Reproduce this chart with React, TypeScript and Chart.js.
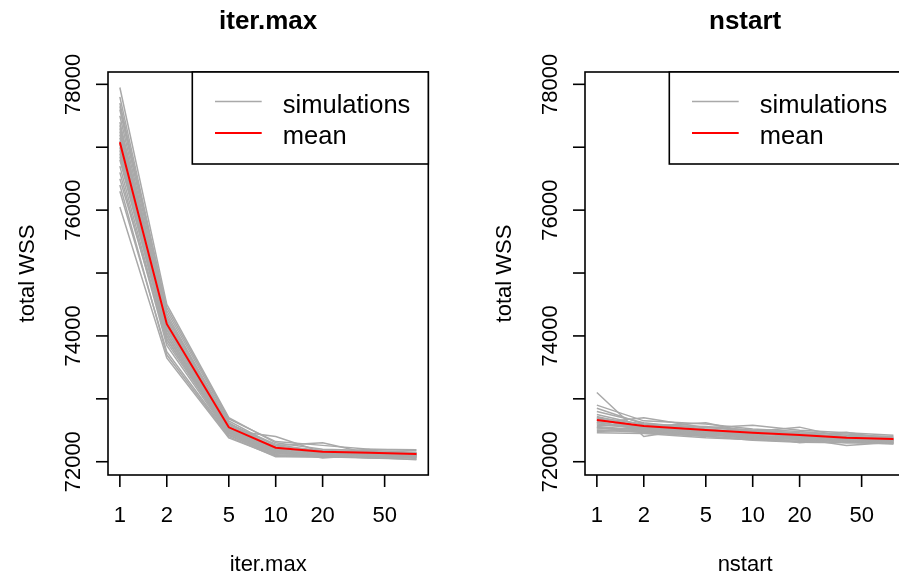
import React, { useEffect, useRef } from "react";
import { Chart, registerables } from "chart.js";

Chart.register(...registerables);

const xValues = [1, 2, 5, 10, 20, 40, 80];
const xTicks = [1, 2, 5, 10, 20, 50];
const yTicks = [72000, 73000, 74000, 75000, 76000, 77000, 78000];
const yTickLabels = ["72000", "", "74000", "", "76000", "", "78000"];

const iterMaxSims: number[][] = [
  [77950, 74500, 72700, 72300, 72200, 72180, 72150],
  [77800, 74400, 72650, 72250, 72180, 72160, 72140],
  [77700, 74350, 72600, 72280, 72150, 72150, 72130],
  [77600, 74300, 72620, 72200, 72170, 72140, 72120],
  [77500, 74250, 72580, 72230, 72140, 72200, 72180],
  [77400, 74200, 72550, 72180, 72160, 72120, 72110],
  [77350, 74300, 72600, 72260, 72300, 72130, 72140],
  [77300, 74150, 72500, 72150, 72120, 72100, 72100],
  [77250, 74250, 72560, 72220, 72130, 72150, 72120],
  [77200, 74100, 72520, 72170, 72110, 72130, 72090],
  [77150, 74200, 72540, 72200, 72180, 72110, 72130],
  [77100, 74050, 72480, 72150, 72090, 72160, 72100],
  [77050, 74150, 72500, 72400, 72150, 72140, 72110],
  [77000, 74100, 72530, 72180, 72120, 72120, 72080],
  [76950, 74000, 72470, 72140, 72140, 72100, 72120],
  [76900, 74050, 72500, 72160, 72100, 72060, 72070],
  [76850, 73950, 72460, 72120, 72130, 72130, 72100],
  [76800, 74000, 72490, 72190, 72060, 72110, 72090],
  [76700, 73900, 72450, 72100, 72110, 72090, 72060],
  [76600, 73850, 72430, 72090, 72140, 72080, 72100],
  [76500, 73950, 72470, 72140, 72100, 72140, 72050],
  [76400, 73700, 72400, 72080, 72080, 72060, 72040],
  [76300, 73750, 72420, 72100, 72090, 72100, 72070],
  [76050, 73650, 72380, 72090, 72070, 72070, 72030],
  [77650, 74450, 72680, 72320, 72260, 72200, 72190],
];
const iterMaxMean = [77080, 74190, 72547, 72223, 72159, 72143, 72122];

const nstartSims: number[][] = [
  [73100, 72400, 72550, 72500, 72450, 72400, 72380],
  [72900, 72650, 72600, 72520, 72480, 72420, 72400],
  [72850, 72600, 72550, 72480, 72440, 72380, 72360],
  [72800, 72620, 72520, 72460, 72420, 72400, 72370],
  [72750, 72580, 72560, 72500, 72460, 72440, 72390],
  [72720, 72550, 72480, 72440, 72400, 72360, 72350],
  [72700, 72600, 72500, 72480, 72550, 72380, 72340],
  [72680, 72520, 72470, 72420, 72380, 72350, 72330],
  [72660, 72560, 72620, 72460, 72410, 72390, 72360],
  [72640, 72500, 72450, 72400, 72360, 72340, 72320],
  [72620, 72540, 72500, 72450, 72420, 72470, 72350],
  [72600, 72520, 72480, 72430, 72300, 72360, 72330],
  [72580, 72560, 72460, 72400, 72380, 72300, 72340],
  [72560, 72500, 72440, 72380, 72400, 72370, 72320],
  [72540, 72480, 72420, 72420, 72350, 72340, 72300],
  [72520, 72530, 72470, 72380, 72370, 72260, 72310],
  [72500, 72470, 72400, 72360, 72340, 72330, 72290],
  [72480, 72510, 72450, 72390, 72360, 72350, 72340],
  [72460, 72450, 72380, 72350, 72320, 72310, 72280],
  [72700, 72490, 72430, 72370, 72390, 72320, 72300],
  [72620, 72700, 72540, 72580, 72500, 72460, 72420],
  [72550, 72460, 72410, 72340, 72310, 72300, 72290],
];
const nstartMean = [72663, 72568, 72504, 72461, 72424, 72382, 72361];

const legendLabels = ["simulations", "mean"];
const simColor = "#a9a9a9";
const meanColor = "#ff0000";
const FONT = "'Liberation Sans', Arial, Helvetica, sans-serif";

const X_MIN = 0.8393;
const X_MAX = 95.32;
const Y_MIN = 71789;
const Y_MAX = 78196;

function makePlugin(title: string, xlab: string, ylab: string) {
  return {
    id: "rframe",
    beforeDraw(chart: any) {
      const ctx = chart.ctx;
      ctx.save();
      ctx.fillStyle = "#ffffff";
      ctx.fillRect(0, 0, chart.width, chart.height);
      ctx.restore();
    },
    afterDraw(chart: any) {
      const ctx = chart.ctx as CanvasRenderingContext2D;
      const a = chart.chartArea;
      const xs = chart.scales.x;
      const ys = chart.scales.y;
      ctx.save();
      ctx.strokeStyle = "#000";
      ctx.fillStyle = "#000";
      ctx.lineWidth = 1.6;
      ctx.strokeRect(a.left, a.top, a.right - a.left, a.bottom - a.top);
      ctx.font = `22px ${FONT}`;
      ctx.textAlign = "center";
      ctx.textBaseline = "alphabetic";
      xTicks.forEach((t) => {
        const px = xs.getPixelForValue(t);
        ctx.beginPath();
        ctx.moveTo(px, a.bottom);
        ctx.lineTo(px, a.bottom + 12);
        ctx.stroke();
        ctx.fillText(String(t), px, a.bottom + 47);
      });
      yTicks.forEach((t, i) => {
        const py = ys.getPixelForValue(t);
        ctx.beginPath();
        ctx.moveTo(a.left, py);
        ctx.lineTo(a.left - 12, py);
        ctx.stroke();
        if (yTickLabels[i]) {
          ctx.save();
          ctx.translate(a.left - 28, py);
          ctx.rotate(-Math.PI / 2);
          ctx.textAlign = "center";
          ctx.fillText(yTickLabels[i], 0, 0);
          ctx.restore();
        }
      });
      const cx = (a.left + a.right) / 2;
      const cy = (a.top + a.bottom) / 2;
      ctx.fillText(xlab, cx, 571);
      ctx.save();
      ctx.translate(33.5, cy);
      ctx.rotate(-Math.PI / 2);
      ctx.textAlign = "center";
      ctx.fillText(ylab, 0, 0);
      ctx.restore();
      ctx.font = `bold 26px ${FONT}`;
      ctx.fillText(title, cx, 28.5);
      const lw = 236;
      const lh = 92;
      const lx = a.right - lw;
      const ly = a.top;
      ctx.fillStyle = "#fff";
      ctx.fillRect(lx, ly, lw, lh);
      ctx.strokeStyle = "#000";
      ctx.lineWidth = 1.6;
      ctx.strokeRect(lx, ly, lw, lh);
      const rows = [
        { y: ly + 29.5, c: simColor, w: 1.5 },
        { y: ly + 61, c: meanColor, w: 1.8 },
      ];
      ctx.font = `25.5px ${FONT}`;
      ctx.textAlign = "left";
      rows.forEach((r, i) => {
        ctx.strokeStyle = r.c;
        ctx.lineWidth = r.w;
        ctx.beginPath();
        ctx.moveTo(lx + 22.7, r.y);
        ctx.lineTo(lx + 69.4, r.y);
        ctx.stroke();
        ctx.fillStyle = "#000";
        ctx.fillText(legendLabels[i], lx + 90.5, r.y + 11);
      });
      ctx.restore();
    },
  };
}

function Panel(props: { sims: number[][]; mean: number[]; title: string; xlab: string; left: number }) {
  const ref = useRef<HTMLCanvasElement | null>(null);
  useEffect(() => {
    if (!ref.current) return;
    const datasets: any[] = [
      {
        data: props.mean.map((v, i) => ({ x: xValues[i], y: v })),
        borderColor: meanColor,
        borderWidth: 2,
        pointRadius: 0,
        fill: false,
        tension: 0,
        order: 0,
      },
    ];
    props.sims.forEach((s) =>
      datasets.push({
        data: s.map((v, i) => ({ x: xValues[i], y: v })),
        borderColor: simColor,
        borderWidth: 1.5,
        pointRadius: 0,
        fill: false,
        tension: 0,
        order: 1,
      })
    );
    const chart = new Chart(ref.current, {
      type: "line",
      data: { datasets },
      options: {
        responsive: false,
        animation: false,
        devicePixelRatio: 1,
        layout: { padding: { left: 108, right: 48.7, top: 72, bottom: 101 } },
        scales: {
          x: { type: "logarithmic", min: X_MIN, max: X_MAX, display: false },
          y: { type: "linear", min: Y_MIN, max: Y_MAX, display: false },
        },
        plugins: { legend: { display: false }, tooltip: { enabled: false } },
      },
      plugins: [makePlugin(props.title, props.xlab, "total WSS")],
    } as any);
    return () => chart.destroy();
  }, []);
  return (
    <div style={{ position: "absolute", left: props.left, top: 0, width: 477, height: 576 }}>
      <canvas ref={ref} width={477} height={576} style={{ display: "block" }} />
    </div>
  );
}

export default function App() {
  return (
    <div
      style={{
        position: "fixed",
        left: 0,
        top: 0,
        width: 899,
        height: 576,
        overflow: "hidden",
        background: "#fff",
      }}
    >
      <Panel sims={iterMaxSims} mean={iterMaxMean} title="iter.max" xlab="iter.max" left={0} />
      <Panel sims={nstartSims} mean={nstartMean} title="nstart" xlab="nstart" left={477} />
    </div>
  );
}
